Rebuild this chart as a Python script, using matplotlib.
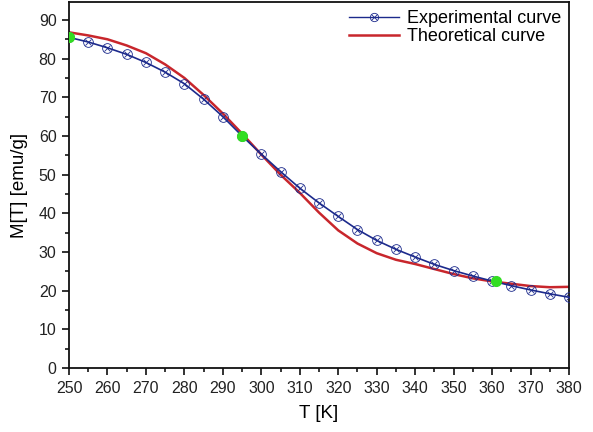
import numpy as np
import matplotlib.pyplot as plt
from matplotlib.ticker import MultipleLocator

plt.rcParams['font.family'] = ['Liberation Sans', 'DejaVu Sans']

temp = [250, 255, 260, 265, 270, 275, 280, 285, 290, 295, 300, 305, 310, 315,
        320, 325, 330, 335, 340, 345, 350, 355, 360, 365, 370, 375, 380]
m_exp = [85.5, 84.3, 82.8, 81.1, 79.0, 76.5, 73.5, 69.5, 65.0, 60.0, 55.3, 50.8,
         46.5, 42.7, 39.2, 35.8, 33.0, 30.7, 28.7, 26.8, 25.2, 23.8, 22.5, 21.3,
         20.2, 19.2, 18.3]
m_theo = [86.8, 86.0, 85.0, 83.4, 81.4, 78.5, 75.0, 70.6, 65.8, 60.6, 55.2, 50.0,
          45.3, 40.2, 35.6, 32.2, 29.7, 28.0, 26.9, 25.6, 24.3, 23.2, 22.4, 21.8,
          21.2, 20.9, 21.0]
green_t = [250, 295, 361]
green_m = [85.5, 60.0, 22.5]

fig = plt.figure(figsize=(5.93, 4.32), dpi=100)
ax = fig.add_axes([0.1164, 0.148, 0.8431, 0.847])

blue = '#1c2a8c'
red = '#c8262c'

ax.plot(temp, m_theo, color=red, lw=1.8, zorder=2)
ax.plot(temp, m_exp, color=blue, lw=1.2, marker='o', ms=7, mfc='none',
        mec=blue, mew=0.6, zorder=3)
ax.plot(temp, m_exp, color=blue, lw=0, marker='x', ms=5, mew=0.6, zorder=3)
ax.plot(green_t, green_m, 'o', color='#33dd22', ms=7, zorder=4)

# legend handles
h1a, = ax.plot([], [], color=blue, lw=1.0, marker='o', ms=6, mfc='none', mec=blue, mew=0.6)
h1b, = ax.plot([], [], color=blue, lw=0, marker='x', ms=4, mew=0.6)
h2, = ax.plot([], [], color=red, lw=1.8)
ax.legend([(h1a, h1b), h2], ['Experimental curve', 'Theoretical curve'], loc='upper right',
          frameon=False, fontsize=13, handlelength=2.8, handletextpad=0.4,
          borderaxespad=0.05, labelspacing=0.05)

ax.set_xlim(250, 380)
ax.set_ylim(0, 94.6)
ax.xaxis.set_major_locator(MultipleLocator(10))
ax.xaxis.set_minor_locator(MultipleLocator(5))
ax.yaxis.set_major_locator(MultipleLocator(10))
ax.yaxis.set_minor_locator(MultipleLocator(5))
ax.tick_params(which='major', direction='out', length=5, width=1.3, labelsize=11.5,
               colors='#222222', pad=4)
ax.tick_params(which='minor', direction='out', length=3, width=1.1)
for s in ax.spines.values():
    s.set_linewidth(1.3)
    s.set_color('#111111')

ax.set_xlabel('T [K]', fontsize=13.5, labelpad=7)
ax.set_ylabel('M[T] [emu/g]', fontsize=13.5, labelpad=8)

fig.savefig('out.png', dpi=100)
